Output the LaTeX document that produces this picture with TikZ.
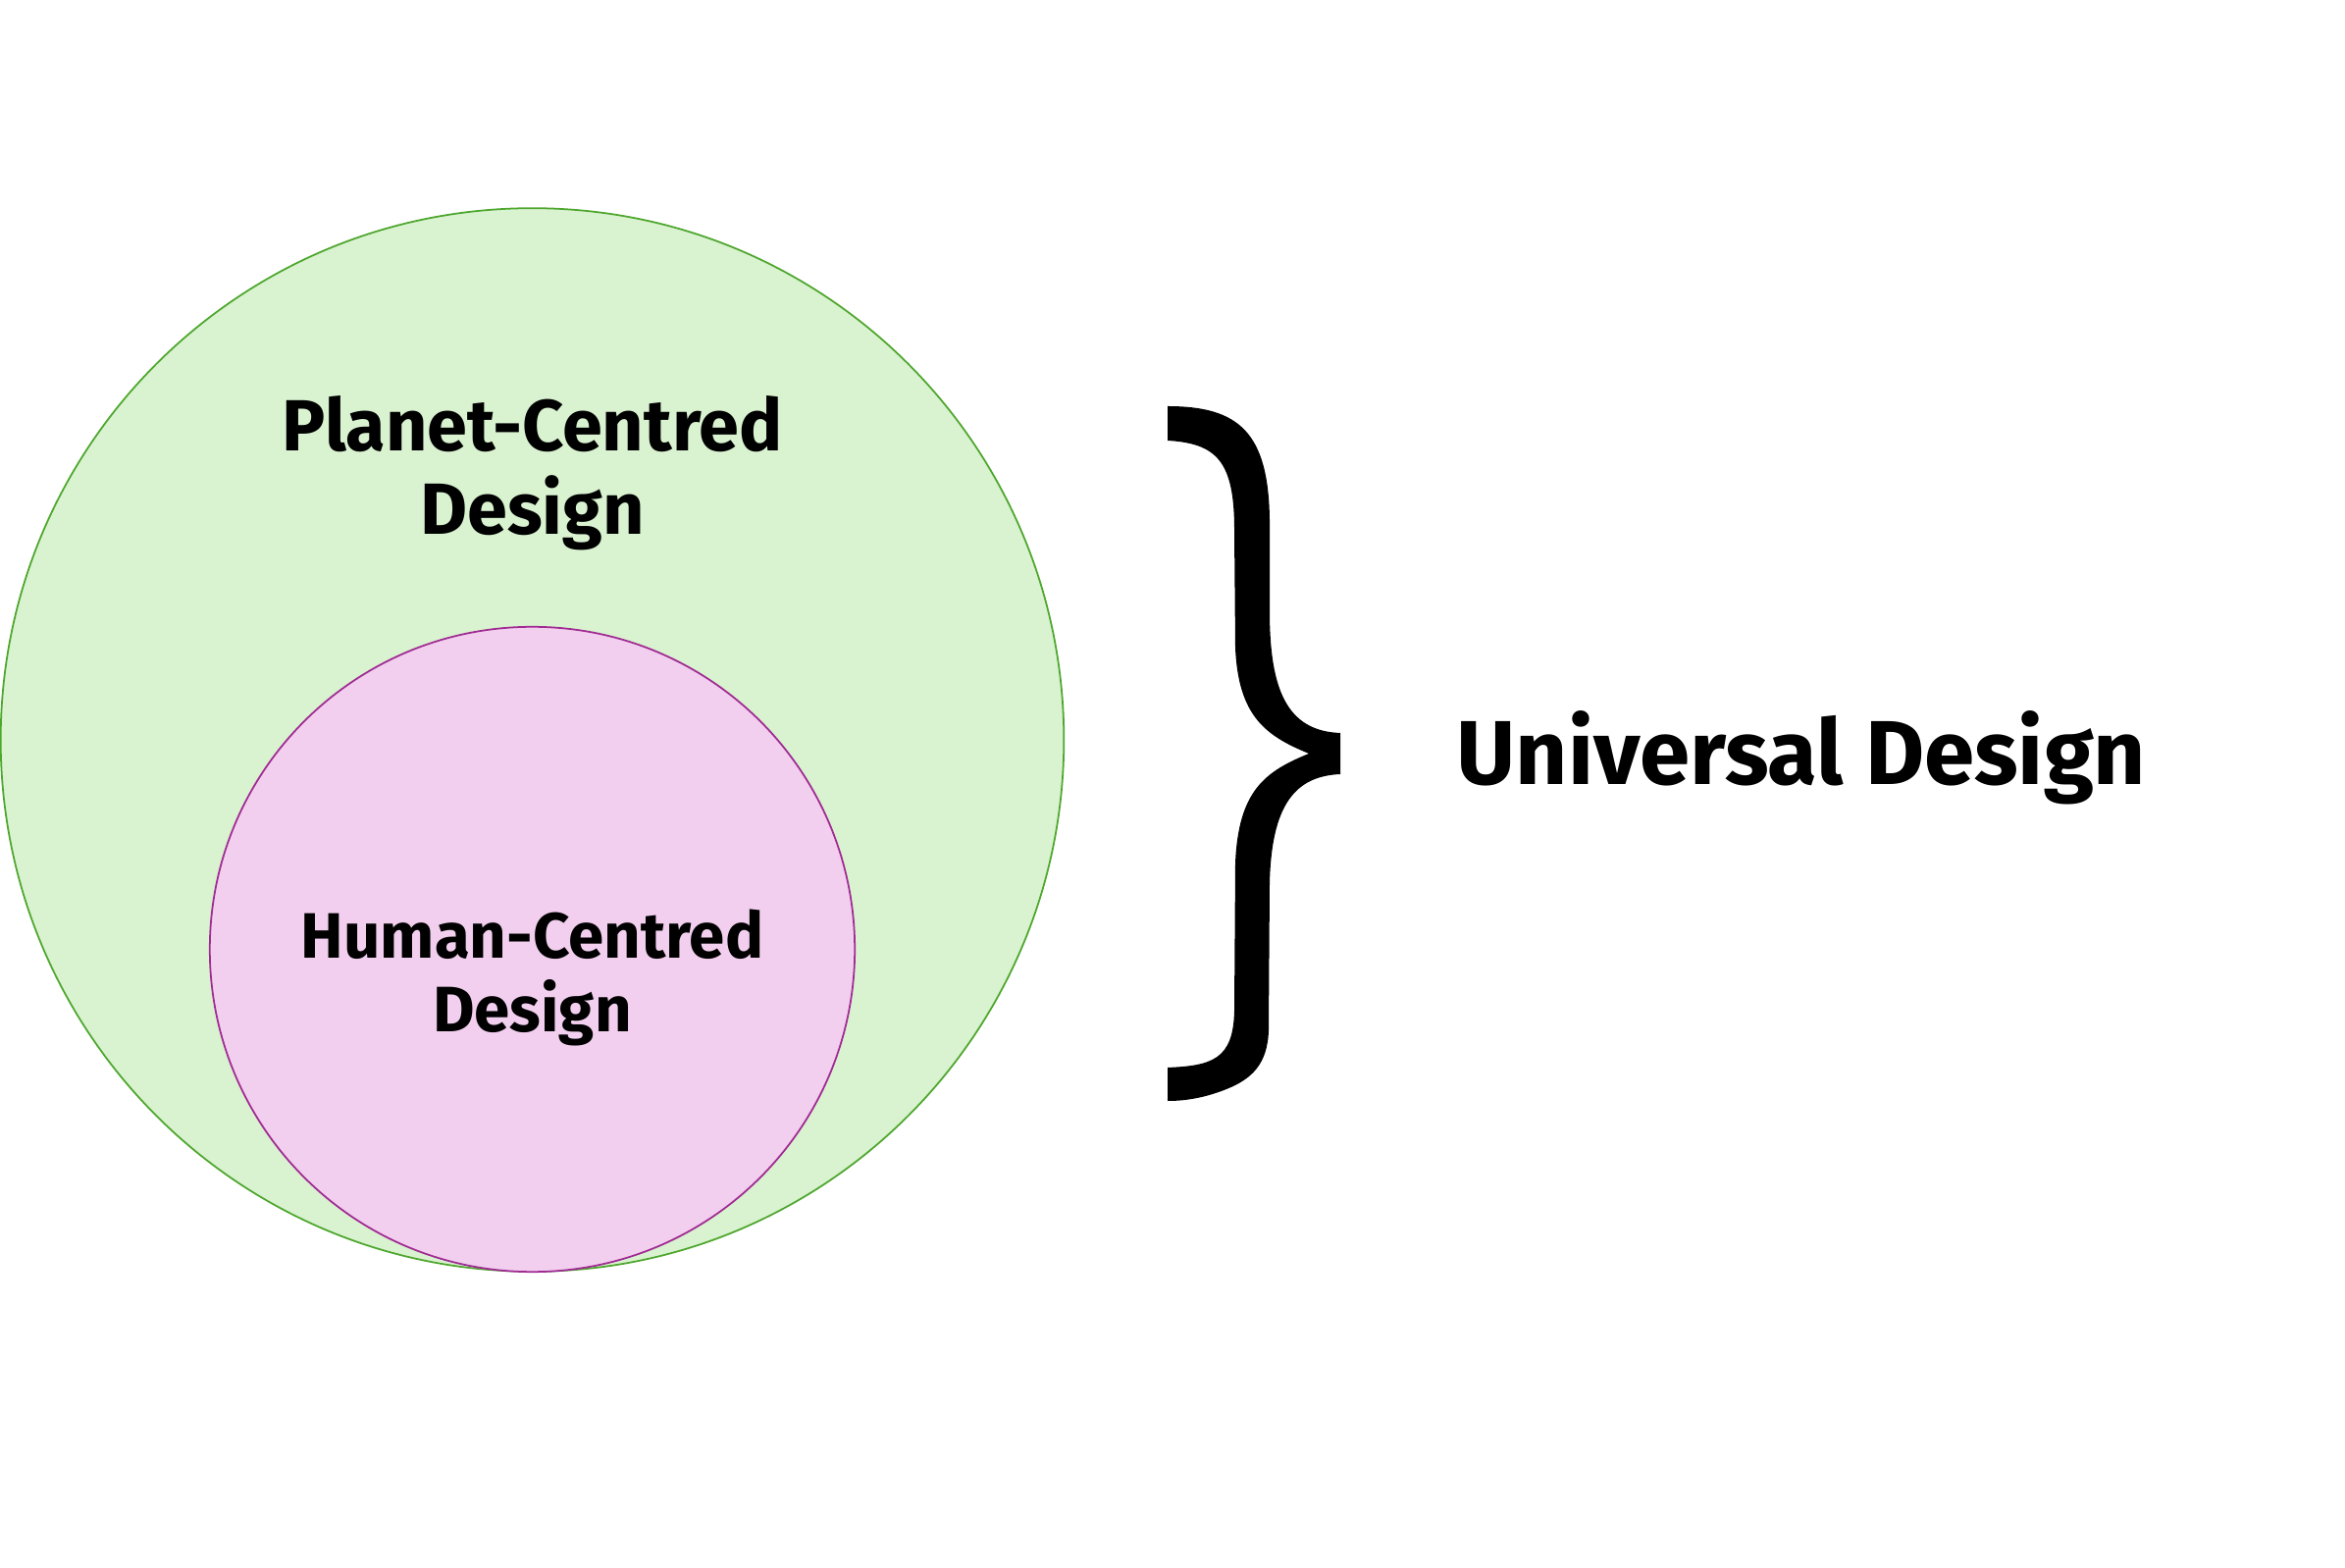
\documentclass[tikz,border=0pt]{standalone}
\usepackage{fontspec}
\setmainfont{Fira Sans}
\definecolor{greenfill}{HTML}{D9F2D0}
\definecolor{greenline}{HTML}{4EA72E}
\definecolor{pinkfill}{HTML}{F2CFEE}
\definecolor{pinkline}{HTML}{A02B93}
\begin{document}
\begin{tikzpicture}[x=0.01cm,y=-0.01cm,
  outercirc/.style={circle, draw=greenline, fill=greenfill, line width=0.5pt, inner sep=0pt, minimum size=10.83cm},
  innercirc/.style={circle, draw=pinkline, fill=pinkfill, line width=0.5pt, inner sep=0pt, minimum size=6.57cm},
  lbl/.style={align=center, inner sep=0pt, anchor=base, text=black}]
\useasboundingbox (0,0) rectangle (2390,1598);
\fill[white] (0,0) rectangle (2390,1598);
\node[outercirc] (planet) at (542.5,754) {};
\node[innercirc] (human) at (542.5,967.5) {};
\node[lbl, font=\fontsize{21}{24.2}\selectfont\bfseries] (planetlbl) at (542.5,545) {Planet-Centred\\Design};
\node[lbl, font=\fontsize{18.6}{21.6}\selectfont\bfseries] (humanlbl) at (542.5,1052) {Human-Centred\\Design};
\node[lbl, font=\fontsize{26.3}{30}\selectfont\bfseries, anchor=base west] (univ) at (1484,800) {Universal Design};
\fill[black] (1190,414) .. controls (1262,414) and (1293,440) .. (1294,530)
  -- (1294,622)
  .. controls (1294,700) and (1310,745) .. (1366,747)
  -- (1366,789)
  .. controls (1320,791) and (1296,820) .. (1294,900)
  -- (1293,1050)
  .. controls (1292,1085) and (1275,1100) .. (1250,1110)
  .. controls (1225,1120) and (1205,1122) .. (1190,1122)
  -- (1190,1088)
  .. controls (1235,1086) and (1257,1080) .. (1258,1030)
  -- (1259,880)
  .. controls (1262,805) and (1290,786) .. (1334,768)
  .. controls (1290,750) and (1262,730) .. (1259,660)
  -- (1258,540)
  .. controls (1258,470) and (1240,452) .. (1190,449)
  -- cycle;
\end{tikzpicture}
\end{document}
